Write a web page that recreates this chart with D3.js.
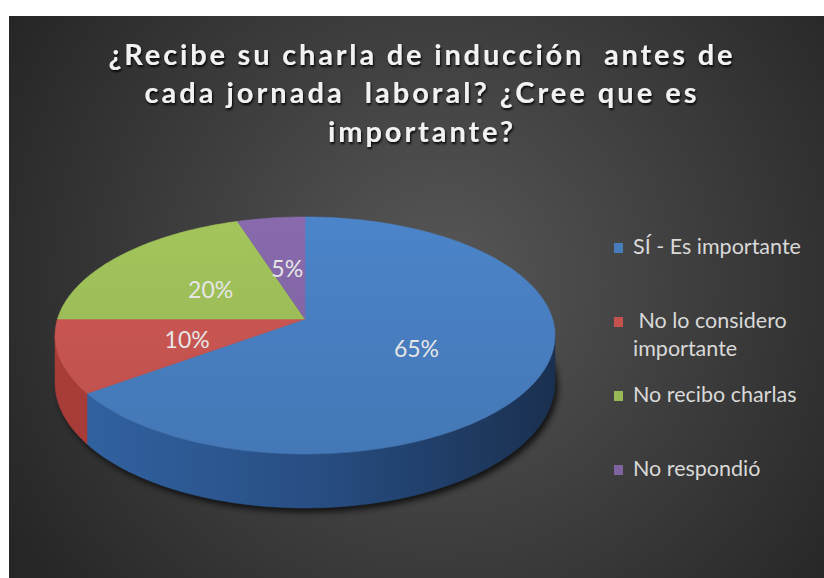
<!DOCTYPE html>
<html>
<head>
<meta charset="utf-8">
<script src="https://cdn.jsdelivr.net/npm/d3@7"></script>
<style>
  body { margin: 0; background: #fff; }
  svg { display: block; }
</style>
</head>
<body>
<div id="chart"></div>
<script>
// chart data
var categories = ["SÍ - Es importante", "No lo considero importante", "No recibo charlas", "No respondió"];
var values = [65, 10, 20, 5];
var valueLabels = ["65%", "10%", "20%", "5%"];
var legendText = [["SÍ - Es importante"], [" No lo considero", "importante"], ["No recibo charlas"], ["No respondió"]];
var titleLines = ["¿Recibe su charla de inducción  antes de", "cada jornada  laboral? ¿Cree que es", "importante?"];

var W = 824, H = 578;
var svg = d3.select("#chart").append("svg")
  .attr("width", W)
  .attr("height", H);

var defs = svg.append("defs");

// background
var bg = defs.append("radialGradient")
  .attr("id", "bg")
  .attr("gradientUnits", "userSpaceOnUse")
  .attr("cx", 440).attr("cy", 280).attr("r", 500);
bg.append("stop").attr("offset", "0%").attr("stop-color", "#575757");
bg.append("stop").attr("offset", "100%").attr("stop-color", "#262626");

svg.append("rect")
  .attr("x", 9).attr("y", 16)
  .attr("width", W - 9).attr("height", H - 16)
  .attr("fill", "url(#bg)");

var blur = defs.append("filter").attr("id", "shadow")
  .attr("x", "-20%").attr("y", "-20%").attr("width", "140%").attr("height", "140%");
blur.append("feGaussianBlur").attr("stdDeviation", 3);

var tshadow = defs.append("filter").attr("id", "tshadow")
  .attr("x", "-5%").attr("y", "-20%").attr("width", "110%").attr("height", "160%");
tshadow.append("feDropShadow")
  .attr("dx", 1).attr("dy", 2).attr("stdDeviation", 1.2)
  .attr("flood-color", "#000").attr("flood-opacity", 0.9);

// colours
var color = d3.scaleOrdinal().domain(categories)
  .range(["#477cbd", "#c4534f", "#99b956", "#8064a2"]);
var sideColor = d3.scaleOrdinal().domain(categories)
  .range([["#3264a3", "#284f85", "#1a3050"], ["#a83c39", "#a03734", "#963230"], ["#7d9a3f", "#6f8a36", "#5f7830"], ["#634b82", "#5a4376", "#4f3a69"]]);

// perspective pie geometry
var cx = 305, cy = 319, A = 247.5, B = 116.2, p = 0.139, depth = 46.5;
function proj(a, f, drop) {
  var u = f * Math.sin(a), v = f * Math.cos(a);
  var w = 1 + p * v;
  return [cx + A * u / w, cy - B * v / w + (drop ? depth / w : 0)];
}
function arcPts(a0, a1, drop) {
  var n = Math.max(2, Math.ceil((a1 - a0) / 0.02));
  return d3.range(n + 1).map(function(i) { return proj(a0 + (a1 - a0) * i / n, 1, drop); });
}
var line = d3.line();

var pie = d3.pie().sort(null).value(function(d) { return d; });
var arcs = pie(values);

categories.forEach(function(c, i) {
  var g = defs.append("linearGradient")
    .attr("id", "side" + i)
    .attr("gradientUnits", "userSpaceOnUse")
    .attr("x1", cx - A).attr("y1", 0).attr("x2", cx + A).attr("y2", 0);
  var s = sideColor(c);
  g.append("stop").attr("offset", "0%").attr("stop-color", s[0]);
  g.append("stop").attr("offset", "50%").attr("stop-color", s[1]);
  g.append("stop").attr("offset", "100%").attr("stop-color", s[2]);

  var t = defs.append("linearGradient")
    .attr("id", "top" + i)
    .attr("gradientUnits", "userSpaceOnUse")
    .attr("x1", 0).attr("y1", cy - B).attr("x2", 0).attr("y2", cy + B * 1.2);
  var base = d3.color(color(c));
  t.append("stop").attr("offset", "0%").attr("stop-color", base.brighter(0.2));
  t.append("stop").attr("offset", "100%").attr("stop-color", base.darker(0.12));
});

// shadow under the pie
var outline = arcPts(0, 2 * Math.PI, true);
svg.append("path")
  .attr("d", line(outline) + "Z")
  .attr("transform", "translate(3,4)")
  .attr("fill", "#000")
  .attr("opacity", 0.75)
  .attr("filter", "url(#shadow)");

// outer walls (front half only)
var vis0 = Math.acos(-p), vis1 = 2 * Math.PI - Math.acos(-p);
var pieG = svg.append("g");
arcs.forEach(function(d, i) {
  var a0 = Math.max(d.startAngle, vis0), a1 = Math.min(d.endAngle, vis1);
  if (a1 <= a0) return;
  var topPts = arcPts(a0, a1, false);
  var botPts = arcPts(a0, a1, true).reverse();
  pieG.append("path")
    .attr("d", line(topPts.concat(botPts)) + "Z")
    .attr("fill", "url(#side" + i + ")")
    .attr("stroke", "url(#side" + i + ")")
    .attr("stroke-width", 0.6);
});

// top faces
arcs.forEach(function(d, i) {
  var pts = [[cx, cy]].concat(arcPts(d.startAngle, d.endAngle, false));
  pieG.append("path")
    .attr("d", line(pts) + "Z")
    .attr("fill", "url(#top" + i + ")")
    .attr("stroke", "url(#top" + i + ")")
    .attr("stroke-width", 0.6);
});

// data labels
arcs.forEach(function(d, i) {
  var m = (d.startAngle + d.endAngle) / 2;
  var pt = proj(m, 0.49, false);
  svg.append("text")
    .attr("x", pt[0]).attr("y", pt[1] + 2)
    .attr("text-anchor", "middle")
    .attr("dominant-baseline", "central")
    .attr("font-family", "Lato, sans-serif")
    .attr("font-size", 23)
    .attr("fill", "#e6e6e6")
    .text(valueLabels[i]);
});

// title
var titleY = d3.scalePoint().domain(d3.range(titleLines.length)).range([65, 141.5]);
var titleW = [624, 552, 185];
svg.append("g").attr("filter", "url(#tshadow)")
  .selectAll("text").data(titleLines).enter()
  .append("text")
  .attr("x", 420.5)
  .attr("y", function(d, i) { return titleY(i); })
  .attr("text-anchor", "middle")
  .attr("textLength", function(d, i) { return titleW[i]; })
  .attr("lengthAdjust", "spacing")
  .attr("font-family", "Lato, sans-serif")
  .attr("font-weight", "bold")
  .attr("font-size", 29)
  .attr("fill", "#f2f2f2")
  .attr("xml:space", "preserve")
  .text(function(d) { return d; });

// legend
var legendY = d3.scalePoint().domain(categories).range([254, 476]);
var lg = svg.append("g");
categories.forEach(function(c, i) {
  var y = legendY(c);
  lg.append("rect")
    .attr("x", 614).attr("y", y - 11)
    .attr("width", 9).attr("height", 10)
    .attr("fill", color(c));
  legendText[i].forEach(function(t, j) {
    lg.append("text")
      .attr("x", 633).attr("y", y + j * 28)
      .attr("font-family", "Lato, sans-serif")
      .attr("font-size", 21.5)
      .attr("fill", "#d9d9d9")
      .attr("xml:space", "preserve")
      .text(t);
  });
});
</script>
</body>
</html>
